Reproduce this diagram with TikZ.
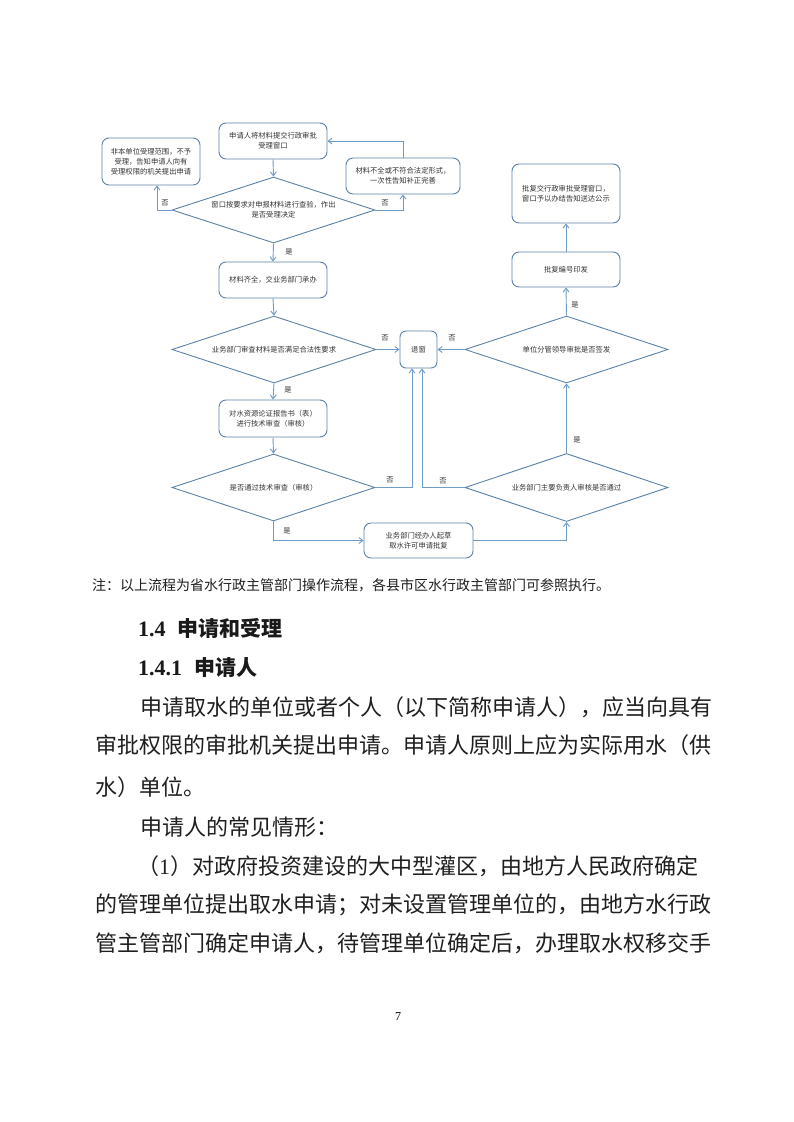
\documentclass[tikz,border=0pt]{standalone}
\usepackage{fontspec}
\newfontfamily\cjk{Noto Sans CJK SC}
\newfontfamily\tnr{Liberation Serif}
\usetikzlibrary{shapes.geometric,arrows.meta}
\definecolor{shapeblue}{RGB}{92,130,168}
\definecolor{linkblue}{RGB}{112,155,198}
\definecolor{ink}{RGB}{50,50,50}
\tikzset{
  fc/.style={font=\cjk\fontsize{7.3}{10}\selectfont, text=ink},
  box/.style={fc, draw=shapeblue, line width=0.9pt, rounded corners=7pt, align=center, inner sep=0pt},
  dia/.style={fc, draw=shapeblue, line width=0.9pt, shape=diamond, aspect=3, inner sep=0pt, align=center},
  arr/.style={draw=linkblue, line width=0.9pt, -{Straight Barb[length=4pt,width=6pt]}},
  lab/.style={fc, inner sep=0pt},
  body/.style={font=\cjk\fontsize{22}{22}\selectfont, text=black!88, anchor=west, inner sep=0pt},
}
\begin{document}
\begin{tikzpicture}[x=1pt,y=-1pt]
\useasboundingbox[fill=white] (0,0) rectangle (793,1122);
% boxes
\node[box, minimum width=108pt, minimum height=36pt] (A) at (273,141) {申请人将材料提交行政审批\\受理窗口};
\node[box, minimum width=98pt, minimum height=47pt] (B) at (151,161.5) {非本单位受理范围，不予\\受理，告知申请人向有\\受理权限的机关提出申请};
\node[box, minimum width=114pt, minimum height=36pt] (C) at (403,176) {材料不全或不符合法定形式，\\一次性告知补正完善};
\node[dia, minimum width=203pt, minimum height=66pt] (D) at (273.5,210) {窗口按要求对申报材料进行查验，作出\\是否受理决定};
\node[box, minimum width=108pt, minimum height=36pt] (E) at (273,280) {材料齐全，交业务部门承办};
\node[dia, minimum width=204pt, minimum height=67pt] (F) at (274,349.5) {业务部门审查材料是否满足合法性要求};
\node[box, minimum width=37pt, minimum height=37pt, rounded corners=6pt] (G) at (418.5,349.5) {退窗};
\node[box, minimum width=108pt, minimum height=37pt] (H) at (273,418.5) {对水资源论证报告书（表）\\进行技术审查（审核）};
\node[dia, minimum width=203pt, minimum height=67pt] (I) at (273.5,487.5) {是否通过技术审查（审核）};
\node[box, minimum width=109pt, minimum height=35pt] (J) at (418.5,540.5) {业务部门经办人起草\\取水许可申请批复};
\node[dia, minimum width=203pt, minimum height=68pt] (K) at (566.5,487.5) {业务部门主要负责人审核是否通过};
\node[dia, minimum width=203pt, minimum height=67pt] (L) at (566.5,349.5) {单位分管领导审批是否签发};
\node[box, minimum width=108pt, minimum height=35pt] (M) at (566,269.5) {批复编号印发};
\node[box, minimum width=108pt, minimum height=59pt] (N) at (566,193.5) {批复交行政审批受理窗口，\\窗口予以办结告知送达公示};
% connectors
\draw[arr] (A.south) -- (D.north);
\draw[arr] (D.west) -| ([xshift=6pt]B.south);
\draw[arr] (D.east) -| (C.south);
\draw[arr] (C.north) |- (A.east);
\draw[arr] (D.south) -- (E.north);
\draw[arr] (E.south) -- (F.north);
\draw[arr] (F.east) -- (G.west);
\draw[arr] (F.south) -- (H.north);
\draw[arr] (H.south) -- (I.north);
\draw[arr] (I.east) -| ([xshift=-6.5pt]G.south);
\draw[arr] (I.south) |- (J.west);
\draw[arr] (J.east) -| (K.south);
\draw[arr] (K.west) -| ([xshift=3.5pt]G.south);
\draw[arr] (K.north) -- (L.south);
\draw[arr] (L.west) -- (G.east);
\draw[arr] (L.north) -- (M.south);
\draw[arr] (M.north) -- (N.south);
% labels
\node[lab] (l1) at (165,203) {否};
\node[lab] (l2) at (385,203) {否};
\node[lab] (l3) at (289,252) {是};
\node[lab] (l4) at (385,338) {否};
\node[lab] (l5) at (452,338) {否};
\node[lab] (l6) at (288,390) {是};
\node[lab] (l7) at (390,480) {否};
\node[lab] (l8) at (443,481) {否};
\node[lab] (l9) at (287,531) {是};
\node[lab] (l10) at (577,440) {是};
\node[lab] (l11) at (575,305) {是};
% text below
\node[anchor=west, inner sep=0pt, font=\cjk\fontsize{14}{14}\selectfont, text=black!88] (note) at (92,585) {注：以上流程为省水行政主管部门操作流程，各县市区水行政主管部门可参照执行。};
\node[anchor=west, inner sep=0pt, text=black!90] (h1) at (138,628) {{\tnr\bfseries\fontsize{22}{22}\selectfont 1.4}\hspace{12pt}{\cjk\bfseries\fontsize{21}{21}\selectfont 申请和受理}};
\node[anchor=west, inner sep=0pt, text=black!90] (h2) at (138,668) {{\tnr\bfseries\fontsize{22}{22}\selectfont 1.4.1}\hspace{12pt}{\cjk\bfseries\fontsize{21}{21}\selectfont 申请人}};
\node[body] (p1) at (140,707) {申请取水的单位或者个人（以下简称申请人），应当向具有};
\node[body] (p2) at (95,745) {审批权限的审批机关提出申请。申请人原则上应为实际用水（供};
\node[body] (p3) at (95,787) {水）单位。};
\node[body] (p4) at (140,827) {申请人的常见情形：};
\node[body] (p5) at (137,866) {（{\tnr 1}）对政府投资建设的大中型灌区，由地方人民政府确定};
\node[body] (p6) at (95,905) {的管理单位提出取水申请；对未设置管理单位的，由地方水行政};
\node[body] (p7) at (95,943) {管主管部门确定申请人，待管理单位确定后，办理取水权移交手};
\node[inner sep=0pt, font=\tnr\fontsize{12}{12}\selectfont] (pg) at (398,1017) {7};
\end{tikzpicture}
\end{document}
